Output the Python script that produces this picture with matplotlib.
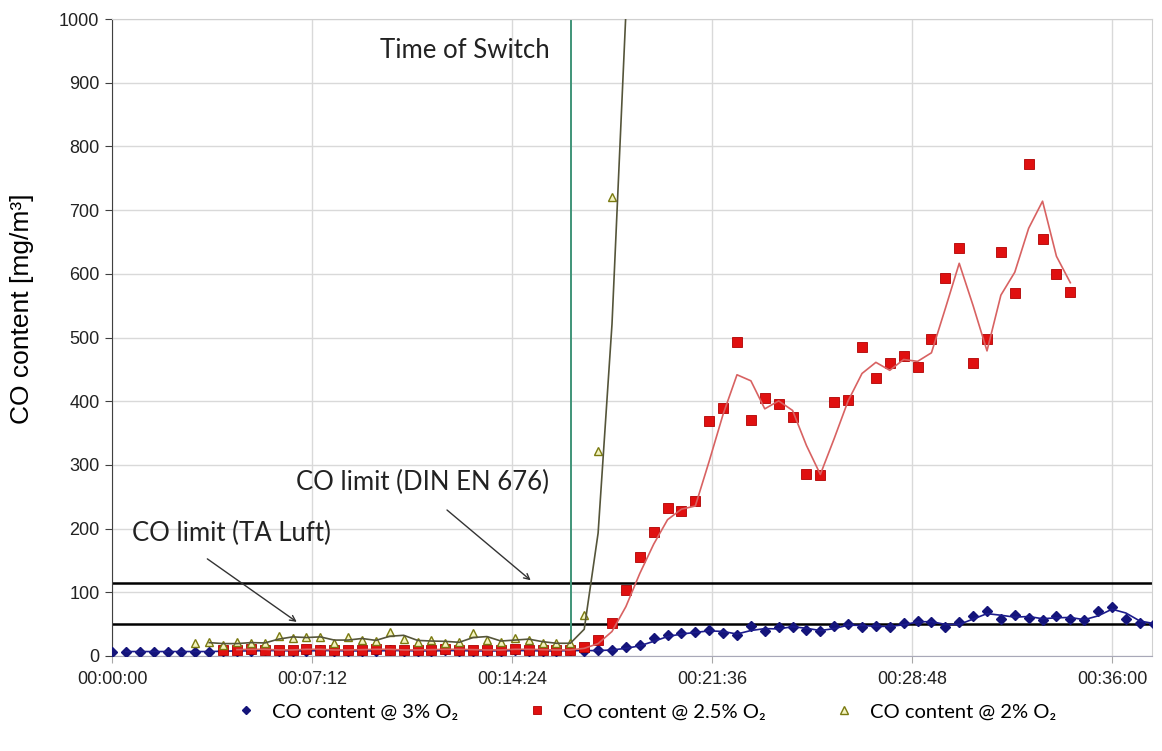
import matplotlib
matplotlib.use("Agg")
import matplotlib.pyplot as plt
import numpy as np
import pandas as pd
from matplotlib.ticker import FuncFormatter, MultipleLocator

plt.rcParams["font.family"] = ["Liberation Sans", "DejaVu Sans"]

# time step of all three measurements: 30 s
STEP = 30

# CO content @ 3% O2, starting at t = 0 s
co_3 = [7, 7, 7, 7, 7, 7, 7, 7,
        8, 8, 8, 9, 8, 8, 8, 9, 8, 8, 8, 8, 9, 8, 8, 8, 9, 8, 8, 8, 8, 9, 8, 8, 8, 9, 8,
        9, 10, 14, 18, 28, 33, 36, 38, 41, 36, 33, 47, 39, 46, 46, 41, 39, 47,
        50, 46, 47, 46, 52, 55, 53, 46, 53, 63, 70, 58, 64, 60, 57,
        63, 58, 56, 70, 77, 58, 52, 50]
start_3 = 0

# CO content @ 2.5% O2, starting at t = 240 s
co_25 = [10, 10, 11, 10, 9, 10, 11, 10, 9, 10, 10, 11, 10, 9, 10, 10, 11, 10, 10, 9,
         10, 11, 10, 10, 9, 10,
         14, 25, 52, 103, 156, 195, 233, 228, 243, 369, 390, 493, 371, 405, 396, 375,
         286, 284, 399, 402, 485, 437, 460, 471, 454, 498, 593, 640, 460, 498, 635,
         570, 773, 655, 600, 572]
start_25 = 240

# CO content @ 2% O2, starting at t = 180 s (last value is off the scale)
co_2 = [20, 22, 17, 22, 20, 21, 32, 28, 30, 30, 20, 30, 25, 24, 38, 27, 22, 25, 21,
        22, 36, 25, 22, 28, 25, 20, 20, 20, 64, 322, 720, 1300]
start_2 = 180

t_switch = 991
limit_din = 115
limit_ta = 50

x_max = 0.026 * 86400   # Excel axis max 0.026 d
x_major = 0.005 * 86400  # 00:07:12


def times(start, vals):
    return start + STEP * np.arange(len(vals))


def hms(t, pos):
    t = int(round(t))
    return f"{t // 3600:02d}:{(t % 3600) // 60:02d}:{t % 60:02d}"


fig = plt.figure(figsize=(11.62, 7.51), dpi=100)
ax = fig.add_axes([112 / 1162, 1 - 656 / 751, 1040 / 1162, 637 / 751])

ax.axhline(limit_din, color="black", lw=1.8, zorder=2)
ax.axhline(limit_ta, color="black", lw=1.8, zorder=2)
ax.axvline(t_switch, color="#3f9478", lw=1.4, zorder=2)

series = [
    (co_3, start_3, "CO content @ 3% O\u2082", dict(marker="D", ms=5.0, color="#14147a",
                                                 mec="#14147a"), "#1c1c8c"),
    (co_25, start_25, "CO content @ 2.5% O\u2082", dict(marker="s", ms=6.6, color="#e01010",
                                                     mec="#b00000", mew=0.6), "#d86262"),
    (co_2, start_2, "CO content @ 2% O\u2082", dict(marker="^", ms=6.4, mfc="#f4f4c0",
                                                 mec="#7a7a10", mew=1.0, color="#7a7a10"), "#55553a"),
]
handles = []
for k, (vals, start, label, mstyle, lcolor) in enumerate(series):
    t = times(start, vals)
    h, = ax.plot(t, vals, linestyle="none", zorder=3 + k, label=label, **mstyle)
    handles.append(h)
    # 2-period moving average trendline
    ma = pd.Series(vals).rolling(2).mean()
    ax.plot(t, ma, color=lcolor, lw=1.2, zorder=3.5 + k)

ax.set_xlim(0, x_max)
ax.set_ylim(0, 1000)
ax.xaxis.set_major_locator(MultipleLocator(x_major))
ax.xaxis.set_major_formatter(FuncFormatter(hms))
ax.yaxis.set_major_locator(MultipleLocator(100))
ax.grid(True, color="#d9d9d9", lw=1.0, zorder=0)
ax.set_axisbelow(True)

for side in ["top", "right"]:
    ax.spines[side].set_color("#d0d0d0")
ax.spines["left"].set_color("#404040")
ax.spines["bottom"].set_color("#a8a8b8")
ax.tick_params(axis="both", labelsize=13, labelcolor="#222222")
ax.tick_params(axis="y", length=5, color="#404040", pad=4)
ax.tick_params(axis="x", length=5, color="#a8a8a8", pad=6)

ax.set_ylabel("CO content [mg/m\u00b3]", fontsize=19)
ax.yaxis.set_label_coords(-0.075, 0.545)

txt = dict(family=["Lato", "DejaVu Sans"], fontsize=18.5, color="#222222")
ax.text(946, 951, "Time of Switch", ha="right", va="center", **txt)
ax.text(397, 272, "CO limit (DIN EN 676)", ha="left", va="center", **txt)
ax.text(43, 193, "CO limit (TA Luft)", ha="left", va="center", **txt)
arrow = dict(arrowstyle="->", color="#333333", lw=1.0)
ax.annotate("", xy=(909, 116), xytext=(719, 232), arrowprops=arrow)
ax.annotate("", xy=(404, 51), xytext=(201, 155), arrowprops=arrow)

fig.legend(handles=handles, loc="center", bbox_to_anchor=(0.556, 0.052), ncol=3,
           frameon=False, markerscale=0.8, handlelength=1.0, handletextpad=0.8,
           columnspacing=3.4, prop=dict(family=["Lato", "DejaVu Sans"], size=14.5))

fig.savefig("out.png", dpi=100)
